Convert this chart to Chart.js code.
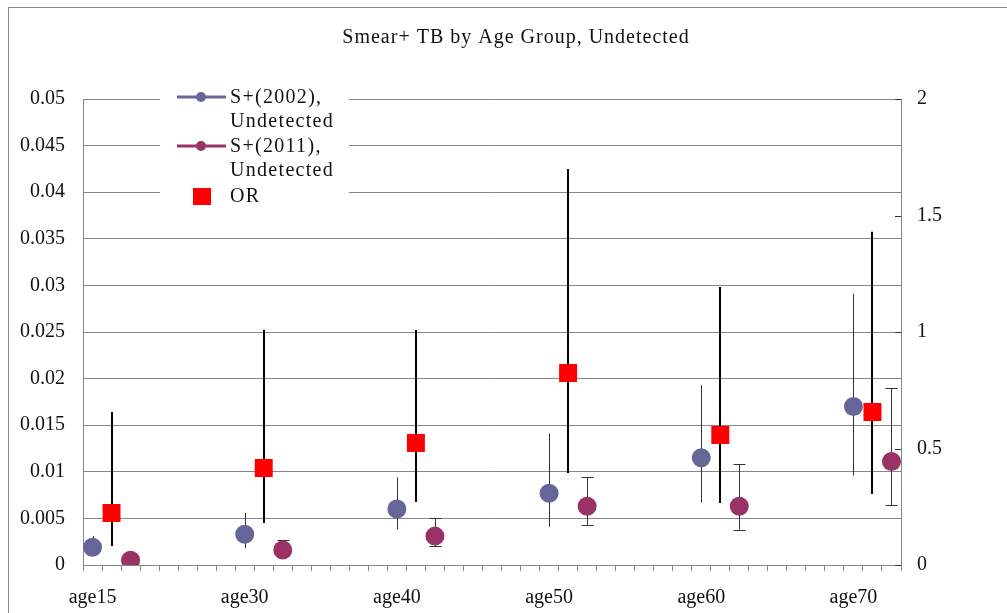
<!DOCTYPE html>
<html>
<head>
<meta charset="utf-8">
<script src="https://cdn.jsdelivr.net/npm/chart.js@4.4.1/dist/chart.umd.min.js"></script>
<style>
    html, body { margin: 0; padding: 0; background: #fff; }
    #wrap { width: 1007px; height: 613px; }
</style>
</head>
<body>
<div id="wrap"><canvas id="tb_chart"></canvas></div>
<script>
/// Smear+ TB by age group: prevalence (left axis) and odds ratio (right axis) with CIs

const titleText = "Smear+ TB by Age Group, Undetected";
const ageGroups = ["age15", "age30", "age40", "age50", "age60", "age70"];

// S+ (2002), undetected - point and interval
const s2002   = [0.0019, 0.0033, 0.0060, 0.0077, 0.0115, 0.0170];
const s2002Lo = [0.0012, 0.0018, 0.0038, 0.0041, 0.0067, 0.0096];
const s2002Hi = [0.0031, 0.0056, 0.0094, 0.0141, 0.0193, 0.0291];

// S+ (2011), undetected
const s2011   = [0.0005, 0.0016, 0.0031, 0.0063, 0.0063, 0.0111];
const s2011Lo = [0.0002, 0.0010, 0.0020, 0.0043, 0.0038, 0.0064];
const s2011Hi = [0.0008, 0.0027, 0.0050, 0.0094, 0.0108, 0.0190];

// odds ratio (right axis)
const orVal = [0.223, 0.416, 0.524, 0.824, 0.558, 0.657];
const orLo  = [0.082, 0.180, 0.270, 0.395, 0.266, 0.305];
const orHi  = [0.657, 1.010, 1.009, 1.700, 1.193, 1.430];

const leftTicksMax = 0.05, leftStep = 0.005;
const rightTicksMax = 2, rightStep = 0.5;

const FONT = '"Liberation Serif", "DejaVu Serif", serif';
const GRID = "#868686";
const TEXT = "#111111";

// each age group takes 8 category slots; the three series sit in the first 3
const SLOTS = 8;
const nSlots = (ageGroups.length - 1) * SLOTS + 3;

function spread(values, shift)
{
    let out = new Array(nSlots).fill(null);
    values.forEach((v, g) => { out[g * SLOTS + shift] = v; });
    return out;
}

let slotLabels = new Array(nSlots).fill("");
ageGroups.forEach((a, g) => { slotLabels[g * SLOTS] = a; });

// draws the confidence intervals behind the markers
const errorBars = {
    id: "errorBars",
    beforeDatasetsDraw(chart) {
        const ctx = chart.ctx;
        chart.data.datasets.forEach((ds, i) => {
            const meta = chart.getDatasetMeta(i);
            const yScale = chart.scales[ds.yAxisID];
            ctx.save();
            ctx.strokeStyle = ds.errColor;
            ctx.lineWidth = ds.errWidth;
            meta.data.forEach((pt, j) => {
                if (ds.data[j] === null) return;
                const x = Math.round(pt.x) + (ds.errWidth % 2 ? 0.5 : 0);
                const y1 = yScale.getPixelForValue(ds.errLo[j]);
                const y2 = yScale.getPixelForValue(ds.errHi[j]);
                ctx.beginPath();
                ctx.moveTo(x, y1);
                ctx.lineTo(x, y2);
                if (ds.errCap > 0) {
                    ctx.moveTo(x - ds.errCap, Math.round(y1) + 0.5);
                    ctx.lineTo(x + ds.errCap, Math.round(y1) + 0.5);
                    ctx.moveTo(x - ds.errCap, Math.round(y2) + 0.5);
                    ctx.lineTo(x + ds.errCap, Math.round(y2) + 0.5);
                }
                ctx.stroke();
            });
            ctx.restore();
        });
    }
};

// frame, title, inward ticks on the right axis and the boxed legend
const decorations = {
    id: "decorations",
    beforeDraw(chart) {
        const ctx = chart.ctx;
        ctx.save();
        ctx.fillStyle = "#fff";
        ctx.fillRect(0, 0, chart.width, chart.height);
        ctx.strokeStyle = "#8a8a8a";
        ctx.lineWidth = 1;
        ctx.strokeRect(8.5, 7.5, chart.width + 20, chart.height + 20);
        ctx.restore();
    },
    afterDraw(chart) {
        const ctx = chart.ctx;
        const area = chart.chartArea;
        const y2 = chart.scales.y2;

        ctx.save();
        // right axis tick marks point into the plot
        ctx.strokeStyle = "#333";
        ctx.lineWidth = 1;
        y2.ticks.forEach(t => {
            const y = Math.round(y2.getPixelForValue(t.value)) + 0.5;
            ctx.beginPath();
            ctx.moveTo(area.right - 6, y);
            ctx.lineTo(area.right, y);
            ctx.stroke();
        });

        // title
        ctx.fillStyle = TEXT;
        ctx.font = "20px " + FONT;
        ctx.letterSpacing = "1px";
        ctx.textAlign = "center";
        ctx.textBaseline = "middle";
        ctx.fillText(titleText, 516, 38);

        // legend box
        const lx = area.left + 77, ly = area.top - 14;
        ctx.fillStyle = "#fff";
        ctx.fillRect(lx, ly, 189, 125);
        ctx.letterSpacing = "1.3px";
        ctx.textAlign = "left";
        ctx.font = "20px " + FONT;

        const rows = [0, 49, 99];
        chart.data.datasets.forEach((ds, i) => {
            const cy = ly + 12 + rows[i];
            const cx = lx + 41;
            if (ds.pointStyle === "circle") {
                ctx.strokeStyle = ds.backgroundColor;
                ctx.lineWidth = 3;
                ctx.beginPath();
                ctx.moveTo(lx + 17, cy);
                ctx.lineTo(lx + 66, cy);
                ctx.stroke();
                ctx.fillStyle = ds.backgroundColor;
                ctx.beginPath();
                ctx.arc(cx, cy, 5, 0, Math.PI * 2);
                ctx.fill();
            } else {
                ctx.fillStyle = ds.backgroundColor;
                ctx.fillRect(cx - 8, cy - 8, 18, 17);
            }
            ctx.fillStyle = TEXT;
            const parts = ds.label.split(", ");
            parts.forEach((p, k) => {
                const txt = k < parts.length - 1 ? p + "," : p;
                ctx.fillText(txt, lx + 70, cy + 1 + k * 24);
            });
        });
        ctx.restore();
    }
};

function createTBChart()
{
    const canvas = document.getElementById("tb_chart");

    new Chart(canvas, {
        type: "line",
        data: {
            labels: slotLabels,
            datasets: [
                {
                    label: "S+(2002), Undetected",
                    data: spread(s2002, 0),
                    errLo: spread(s2002Lo, 0),
                    errHi: spread(s2002Hi, 0),
                    errColor: "#333", errWidth: 1, errCap: 0,
                    yAxisID: "y",
                    showLine: false,
                    pointStyle: "circle",
                    pointRadius: 9.5,
                    pointBorderWidth: 0,
                    backgroundColor: "#666699",
                    borderColor: "#666699"
                },
                {
                    label: "S+(2011), Undetected",
                    data: spread(s2011, 2),
                    errLo: spread(s2011Lo, 2),
                    errHi: spread(s2011Hi, 2),
                    errColor: "#333", errWidth: 1, errCap: 6,
                    yAxisID: "y",
                    showLine: false,
                    pointStyle: "circle",
                    pointRadius: 9.5,
                    pointBorderWidth: 0,
                    backgroundColor: "#993366",
                    borderColor: "#993366"
                },
                {
                    label: "OR",
                    data: spread(orVal, 1),
                    errLo: spread(orLo, 1),
                    errHi: spread(orHi, 1),
                    errColor: "#000", errWidth: 2, errCap: 0,
                    yAxisID: "y2",
                    showLine: false,
                    pointStyle: "rect",
                    pointRadius: 12.7,
                    pointBorderWidth: 0,
                    backgroundColor: "#ff0000",
                    borderColor: "#ff0000"
                }
            ]
        },
        options: {
            responsive: true,
            maintainAspectRatio: false,
            animation: false,
            layout: { padding: { top: 99, left: 0, right: 0, bottom: 0 } },
            plugins: {
                legend: { display: false },
                tooltip: { enabled: false },
                title: { display: false }
            },
            scales: {
                x: {
                    type: "category",
                    offset: true,
                    grid: {
                        offset: true,
                        drawOnChartArea: false,
                        drawTicks: true,
                        tickLength: 6,
                        color: GRID
                    },
                    border: { color: GRID },
                    ticks: {
                        autoSkip: false,
                        maxRotation: 0,
                        padding: 15,
                        color: TEXT,
                        font: { family: FONT, size: 20 }
                    },
                    afterFit: s => { s.height = 48; }
                },
                y: {
                    position: "left",
                    min: 0,
                    max: leftTicksMax,
                    grid: { color: GRID, drawTicks: false },
                    border: { color: GRID },
                    ticks: {
                        stepSize: leftStep,
                        padding: 18,
                        color: TEXT,
                        font: { family: FONT, size: 20 },
                        callback: v => String(+v.toFixed(3))
                    },
                    afterFit: s => { s.width = 83; }
                },
                y2: {
                    position: "right",
                    min: 0,
                    max: rightTicksMax,
                    grid: { drawOnChartArea: false, drawTicks: false },
                    border: { color: GRID },
                    ticks: {
                        stepSize: rightStep,
                        padding: 16,
                        color: TEXT,
                        font: { family: FONT, size: 20 },
                        callback: v => String(+v.toFixed(1))
                    },
                    afterFit: s => { s.width = 106; }
                }
            }
        },
        plugins: [errorBars, decorations]
    });
}

document.addEventListener("DOMContentLoaded", () => {
    createTBChart();
});
</script>
</body>
</html>
